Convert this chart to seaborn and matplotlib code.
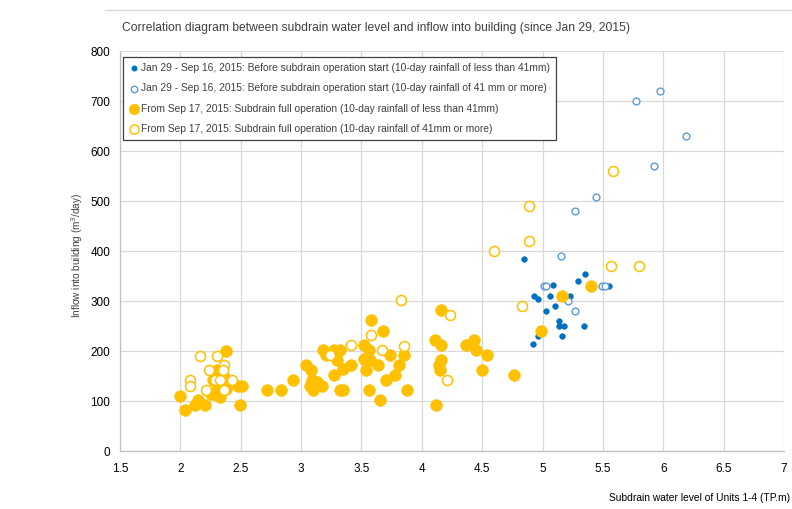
import matplotlib
matplotlib.use("Agg")
import matplotlib.pyplot as plt
import seaborn as sns
import pandas as pd
from matplotlib.lines import Line2D
from matplotlib.ticker import FormatStrFormatter

# ---------------- data ----------------
title = "Correlation diagram between subdrain water level and inflow into building (since Jan 29, 2015)"
xlabel = "Subdrain water level of Units 1-4 (TP.m)"
ylabel = "Inflow into building (m$^3$/day)"

labels = [
    "Jan 29 - Sep 16, 2015: Before subdrain operation start (10-day rainfall of less than 41mm)",
    "Jan 29 - Sep 16, 2015: Before subdrain operation start (10-day rainfall of 41 mm or more)",
    "From Sep 17, 2015: Subdrain full operation (10-day rainfall of less than 41mm)",
    "From Sep 17, 2015: Subdrain full operation (10-day rainfall of 41mm or more)",
]

blue_filled_x = [4.85, 5.35, 5.29, 5.09, 5.55, 4.93, 4.96, 5.06, 5.23, 5.10, 5.03,
                 5.14, 5.14, 5.18, 5.34, 4.96, 5.16, 4.92]
blue_filled_y = [384, 355, 340, 332, 330, 311, 305, 311, 311, 291, 281,
                 261, 250, 250, 250, 231, 230, 215]

blue_open_x = [5.97, 5.77, 6.19, 5.92, 5.44, 5.27, 5.15, 5.01, 5.03, 5.49, 5.52, 5.21, 5.27]
blue_open_y = [721, 701, 631, 571, 508, 481, 391, 331, 331, 331, 331, 301, 281]

yellow_filled_x = [2.38, 2.00, 2.04, 2.12, 2.20, 2.15, 2.30, 2.36, 2.27, 2.31, 2.25, 2.30,
                   2.33, 2.38, 2.48, 2.51, 2.49, 2.72, 2.83, 2.93, 3.04, 3.08, 3.09, 3.13,
                   3.07, 3.10, 3.17, 3.18, 3.27, 3.32, 3.21, 3.30, 3.35, 3.41, 3.27, 3.32,
                   3.35, 3.52, 3.52, 3.58, 3.56, 3.68, 3.56, 3.57, 3.64, 3.54, 3.74, 3.85,
                   3.81, 3.78, 3.70, 3.88, 3.65, 4.16, 4.11, 4.16, 4.16, 4.14, 4.15, 4.12,
                   4.37, 4.43, 4.45, 4.54, 4.50, 4.76, 4.99, 5.16, 5.40]
yellow_filled_y = [201, 111, 82, 92, 92, 102, 162, 149, 142, 129, 115, 112,
                   109, 125, 131, 131, 92, 122, 122, 142, 172, 162, 142, 139,
                   131, 122, 131, 202, 202, 202, 192, 182, 165, 172, 152, 122,
                   122, 212, 184, 262, 122, 241, 202, 182, 172, 162, 192, 192,
                   172, 152, 142, 122, 102, 282, 222, 212, 182, 172, 162, 92,
                   212, 222, 202, 192, 162, 152, 241, 311, 331]

yellow_open_x = [4.89, 4.89, 4.60, 5.57, 5.80, 4.83, 5.58, 2.16, 2.30, 2.36, 2.24, 2.35,
                 2.08, 2.08, 2.29, 2.33, 2.43, 2.21, 2.36, 3.41, 3.24, 3.58, 3.83, 4.23,
                 3.67, 3.85, 4.21]
yellow_open_y = [491, 421, 401, 371, 371, 291, 561, 191, 191, 172, 162, 162,
                 143, 131, 142, 142, 142, 122, 122, 212, 192, 232, 302, 272,
                 202, 211, 142]

x_ticks = [1.5, 2, 2.5, 3, 3.5, 4, 4.5, 5, 5.5, 6, 6.5, 7]
y_ticks = [0, 100, 200, 300, 400, 500, 600, 700, 800]

# ---------------- style ----------------
sns.set_theme(style="white")
FAM = ["Liberation Sans", "DejaVu Sans"]
plt.rcParams["font.family"] = FAM

BLUE = "#0070C0"
LBLUE = "#5B9BD5"
YEL = "#FFC000"
GRID = "#D9D9D9"
TXT = "#404040"

W, H = 792, 509
fig = plt.figure(figsize=(W / 100, H / 100), dpi=100)
ax = fig.add_axes([120 / W, 1 - 451 / H, (784 - 120) / W, (451 - 51) / H])

df_bf = pd.DataFrame({"x": blue_filled_x, "y": blue_filled_y})
df_bo = pd.DataFrame({"x": blue_open_x, "y": blue_open_y})
df_yf = pd.DataFrame({"x": yellow_filled_x, "y": yellow_filled_y})
df_yo = pd.DataFrame({"x": yellow_open_x, "y": yellow_open_y})

sns.scatterplot(data=df_bf, x="x", y="y", ax=ax, s=16, color=BLUE, edgecolor=BLUE,
                linewidth=0.5, label=labels[0], zorder=3)
sns.scatterplot(data=df_bo, x="x", y="y", ax=ax, s=24, facecolor="white", edgecolor=LBLUE,
                linewidth=1.0, label=labels[1], zorder=3)
sns.scatterplot(data=df_yf, x="x", y="y", ax=ax, s=70, color=YEL, edgecolor=YEL,
                linewidth=0.5, label=labels[2], zorder=4)
sns.scatterplot(data=df_yo, x="x", y="y", ax=ax, s=52, facecolor="white", edgecolor=YEL,
                linewidth=1.1, label=labels[3], zorder=4)

ax.set_xlim(1.5, 7)
ax.set_ylim(0, 800)
ax.set_xticks(x_ticks)
ax.set_yticks(y_ticks)
ax.xaxis.set_major_formatter(FormatStrFormatter("%g"))
ax.grid(True, color=GRID, linewidth=0.9)
ax.set_axisbelow(True)
for s in ["top", "right"]:
    ax.spines[s].set_visible(False)
for s in ["left", "bottom"]:
    ax.spines[s].set_color("#BFBFBF")
    ax.spines[s].set_linewidth(0.9)
ax.tick_params(axis="both", length=0, labelsize=8.5, labelcolor="#000000", pad=7)
ax.tick_params(axis="x", pad=9)
ax.set_xlabel("")
ax.set_ylabel("")

fig.text(122 / W, 1 - 28 / H, title, fontsize=8.7, color=TXT, ha="left", va="center")
fig.text(77 / W, 1 - 255 / H, ylabel, fontsize=7.2, color=TXT, rotation=90,
         ha="center", va="center")
fig.text(790 / W, 1 - 498 / H, xlabel, fontsize=7.4, color="#000000", ha="right", va="center")

fig.add_artist(Line2D([105 / W, 1], [1 - 10 / H, 1 - 10 / H], color="#D9D9D9", linewidth=1.0))

leg = ax.legend(loc="upper left", bbox_to_anchor=(0.0045, 0.985), borderaxespad=0,
                frameon=True, fancybox=False, framealpha=1, edgecolor="#404040",
                fontsize=7.4, labelspacing=1.0, handletextpad=0.25, handlelength=0.9,
                borderpad=0.6)
leg.get_frame().set_linewidth(0.9)
for t in leg.get_texts():
    t.set_color(TXT)
for h, sz in zip(leg.legend_handles, [14, 22, 56, 44]):
    try:
        h.set_sizes([sz])
    except AttributeError:
        pass

fig.savefig("out.png", dpi=100)
